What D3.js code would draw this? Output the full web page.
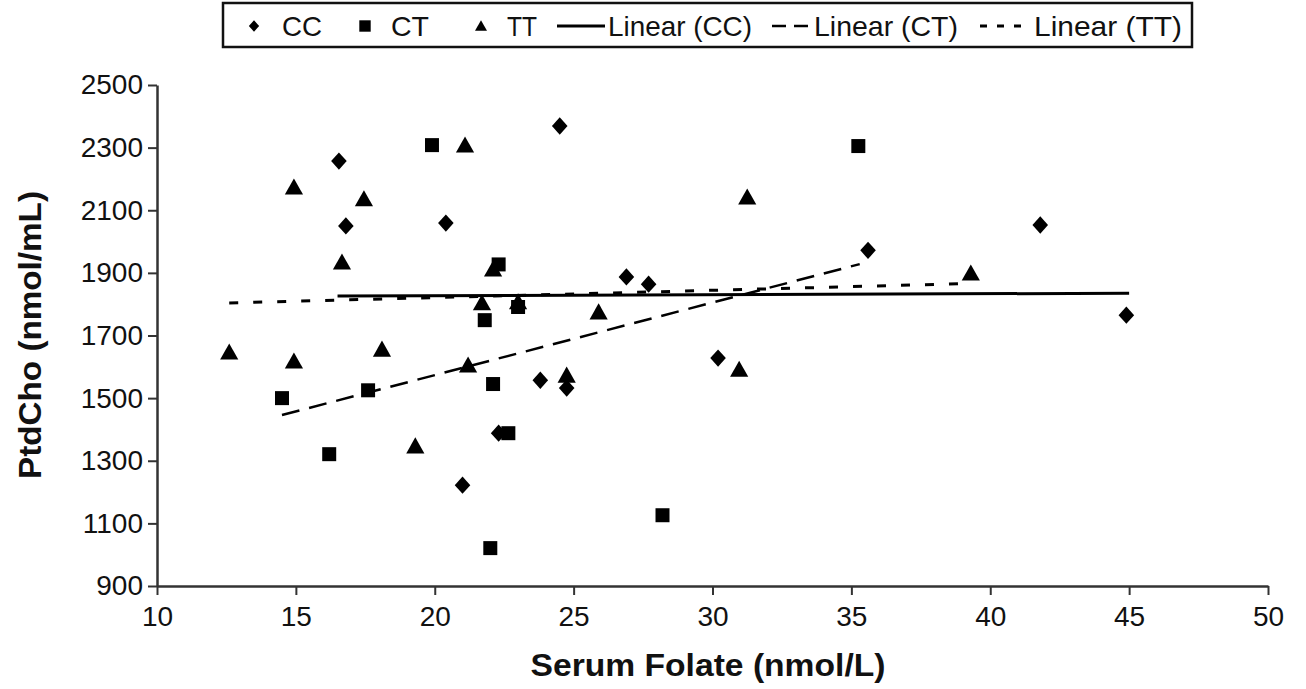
<!DOCTYPE html>
<html>
<head>
<meta charset="utf-8">
<script src="https://cdn.jsdelivr.net/npm/d3@7"></script>
<style>
html,body{margin:0;padding:0;background:#fff;}
svg{display:block;font-family:"Liberation Sans",Arial,Helvetica,sans-serif;}
</style>
</head>
<body>
<svg id="chart" width="1306" height="689"></svg>
<script>
// ---- data ----
const xTicks = [10, 15, 20, 25, 30, 35, 40, 45, 50];
const yTicks = [900, 1100, 1300, 1500, 1700, 1900, 2100, 2300, 2500];

const ccFolate = [16.55, 16.8, 20.4, 24.5, 21.0, 23.8, 24.75, 26.9, 27.7, 30.2, 35.6, 41.8, 44.9, 22.3];
const ccPtdCho = [2257, 2050, 2059, 2369, 1222, 1557, 1532, 1887, 1864, 1628, 1972, 2053, 1765, 1388];

const ctFolate = [19.9, 14.5, 17.6, 22.3, 21.8, 23.0, 22.1, 16.2, 22.0, 22.65, 28.2, 35.25];
const ctPtdCho = [2308, 1500, 1525, 1927, 1749, 1791, 1545, 1321, 1021, 1388, 1126, 2305];

const ttFolate = [12.6, 14.93, 14.93, 17.45, 16.66, 18.1, 21.09, 22.1, 21.7, 23.0, 25.9, 21.2, 24.75, 19.3, 31.25, 30.96, 39.3];
const ttPtdCho = [1647, 2174, 1618, 2136, 1934, 1656, 2308, 1912, 1804, 1807, 1775, 1605, 1573, 1347, 2142, 1592, 1899];

// trend lines (end points)
const trendCCx = [16.5, 45.0];  const trendCCy = [1826, 1835];
const trendCTx = [14.5, 35.3];  const trendCTy = [1446, 1928];
const trendTTx = [12.6, 39.3];  const trendTTy = [1804, 1866];

const seriesNames = ["CC", "CT", "TT"];
const trendNames = ["Linear (CC)", "Linear (CT)", "Linear (TT)"];

// ---- drawing ----
const svg = d3.select("#chart");
const x = d3.scaleLinear().domain([10, 50]).range([157, 1268]);
const y = d3.scaleLinear().domain([900, 2500]).range([586, 85]);

const diamond = { draw(ctx, size){ const r = Math.sqrt(size)/2; ctx.moveTo(0,-r); ctx.lineTo(r*0.9,0); ctx.lineTo(0,r); ctx.lineTo(-r*0.9,0); ctx.closePath(); } };
const square = { draw(ctx, size){ const r = Math.sqrt(size)/2; ctx.rect(-r,-r,2*r,2*r); } };
const triangle = { draw(ctx, size){ const r = Math.sqrt(size)/2; ctx.moveTo(0,-r); ctx.lineTo(r*1.05,r*0.85); ctx.lineTo(-r*1.05,r*0.85); ctx.closePath(); } };

const shapes = [d3.symbol().type(diamond).size(300), d3.symbol().type(square).size(196), d3.symbol().type(triangle).size(300)];
const xs = [ccFolate, ctFolate, ttFolate];
const ys = [ccPtdCho, ctPtdCho, ttPtdCho];

// axes
const axisColor = "#333";
const gx = svg.append("g").attr("transform", "translate(0,586)")
  .call(d3.axisBottom(x).tickValues(xTicks).tickFormat(d3.format("d")).tickSize(9).tickSizeOuter(0).tickPadding(7));
const gy = svg.append("g").attr("transform", "translate(157,0)")
  .call(d3.axisLeft(y).tickValues(yTicks).tickFormat(d3.format("d")).tickSize(9).tickSizeOuter(0).tickPadding(5));
[gx, gy].forEach(g => {
  g.select(".domain").attr("stroke", axisColor).attr("stroke-width", 2.5);
  g.selectAll(".tick line").attr("stroke", axisColor).attr("stroke-width", 2);
  g.selectAll(".tick text").attr("fill", "#111").style("font-size", "28px").style("font-family", "'Liberation Sans', Arial, sans-serif");
});
gx.selectAll(".tick text").attr("dy", "0.85em");

// axis titles
svg.append("text").attr("x", 708).attr("y", 676).attr("text-anchor", "middle")
  .style("font-size", "31px").style("font-weight", "bold").attr("fill", "#111")
  .attr("textLength", 355).attr("lengthAdjust", "spacingAndGlyphs")
  .text("Serum Folate (nmol/L)");
svg.append("text").attr("transform", "translate(41,335) rotate(-90)").attr("text-anchor", "middle")
  .style("font-size", "31px").style("font-weight", "bold").attr("fill", "#111")
  .attr("textLength", 288).attr("lengthAdjust", "spacingAndGlyphs")
  .text("PtdCho (nmol/mL)");

// trend lines
const trendStyles = [
  {w: 3, dash: null},
  {w: 2.5, dash: "18,10"},
  {w: 3, dash: "9,15"}
];
const trX = [trendCCx, trendCTx, trendTTx];
const trY = [trendCCy, trendCTy, trendTTy];
const line = d3.line().x(d => x(d[0])).y(d => y(d[1]));
trX.forEach((tx, i) => {
  const pts = tx.map((v, j) => [v, trY[i][j]]);
  svg.append("path").attr("d", line(pts)).attr("fill", "none").attr("stroke", "#000")
    .attr("stroke-width", trendStyles[i].w).attr("stroke-dasharray", trendStyles[i].dash);
});

// points
xs.forEach((arr, i) => {
  svg.append("g").selectAll("path").data(arr.map((v, j) => [v, ys[i][j]])).join("path")
    .attr("transform", d => `translate(${x(d[0])},${y(d[1])})`)
    .attr("d", shapes[i]).attr("fill", "#000");
});

// legend
const leg = svg.append("g");
leg.append("rect").attr("x", 223).attr("y", 3).attr("width", 969).attr("height", 44)
  .attr("fill", "#fff").attr("stroke", "#111").attr("stroke-width", 2.5);
const legY = 26;
const symX = [254, 365, 481];
const symText = [[282, 40], [391, 38], [507, 30]];
seriesNames.forEach((n, i) => {
  leg.append("path").attr("transform", `translate(${symX[i]},${legY})`)
    .attr("d", d3.symbol().type([diamond, square, triangle][i]).size(130)()).attr("fill", "#000");
  leg.append("text").attr("x", symText[i][0]).attr("y", legY + 10).style("font-size", "28px").attr("fill", "#111")
    .attr("textLength", symText[i][1]).attr("lengthAdjust", "spacingAndGlyphs").text(n);
});
const lineX = [[557, 605], [772, 808], [980, 1022]];
const lineText = [[608, 144], [814, 144], [1034, 148]];
trendNames.forEach((n, i) => {
  leg.append("line").attr("x1", lineX[i][0]).attr("x2", lineX[i][1]).attr("y1", legY).attr("y2", legY)
    .attr("stroke", "#000").attr("stroke-width", trendStyles[i].w)
    .attr("stroke-dasharray", i === 0 ? null : (i === 1 ? "14,8" : "7,10"));
  leg.append("text").attr("x", lineText[i][0]).attr("y", legY + 10).style("font-size", "28px").attr("fill", "#111")
    .attr("textLength", lineText[i][1]).attr("lengthAdjust", "spacingAndGlyphs").text(n);
});
</script>
</body>
</html>
